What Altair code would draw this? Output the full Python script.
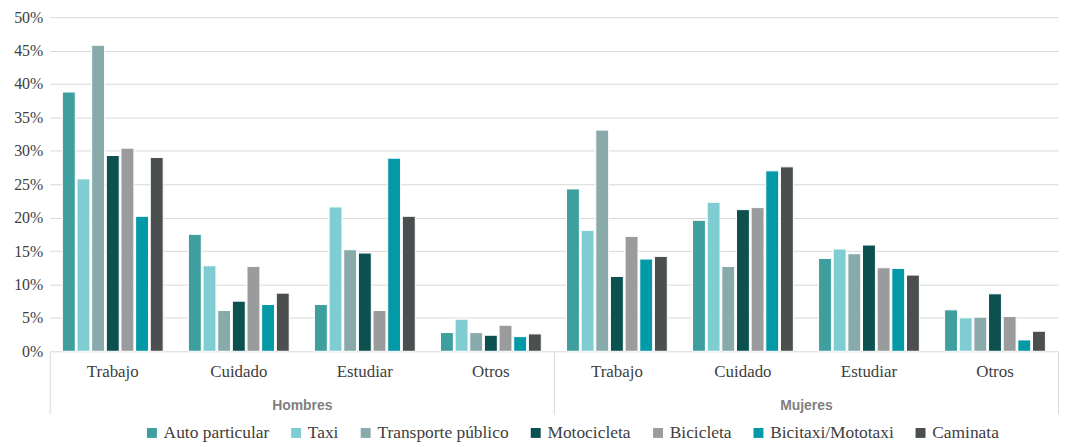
import altair as alt
import pandas as pd

modos = ["Auto particular", "Taxi", "Transporte público", "Motocicleta",
         "Bicicleta", "Bicitaxi/Mototaxi", "Caminata"]
colores = ["#3f9f9f", "#7fccd3", "#89aaab", "#0c5050", "#999b9c", "#0399a7", "#4b4f50"]
sexos = ["Hombres", "Mujeres"]
actividades = ["Trabajo", "Cuidado", "Estudiar", "Otros"]

# values (%) per activity, in the order of `modos`
hombres = {
    "Trabajo":  [38.8, 25.8, 45.8, 29.3, 30.4, 20.2, 29.0],
    "Cuidado":  [17.5, 12.8, 6.1, 7.5, 12.7, 7.0, 8.7],
    "Estudiar": [7.0, 21.6, 15.2, 14.7, 6.1, 28.9, 20.2],
    "Otros":    [2.8, 4.8, 2.8, 2.4, 3.9, 2.2, 2.6],
}
mujeres = {
    "Trabajo":  [24.3, 18.1, 33.1, 11.2, 17.2, 13.8, 14.2],
    "Cuidado":  [19.6, 22.3, 12.7, 21.2, 21.5, 27.0, 27.6],
    "Estudiar": [13.9, 15.3, 14.6, 15.9, 12.5, 12.4, 11.4],
    "Otros":    [6.2, 5.0, 5.1, 8.6, 5.2, 1.7, 3.0],
}

rows = []
keys = []
for sexo, datos in zip(sexos, [hombres, mujeres]):
    for act in actividades:
        key = f"{sexo}|{act}"
        keys.append(key)
        for modo, v in zip(modos, datos[act]):
            rows.append({"key": key, "sexo": sexo, "actividad": act,
                         "modo": modo, "valor": v / 100})
df = pd.DataFrame(rows)
grupos = pd.DataFrame({"sexo": sexos})

SERIF = "Liberation Serif"

bars = alt.Chart(df).mark_bar(stroke="white", strokeWidth=1).encode(
    x=alt.X("key:N", sort=keys,
            scale=alt.Scale(paddingInner=0.2, paddingOuter=0.1),
            axis=alt.Axis(title=None, labelExpr="split(datum.label, '|')[1]",
                          ticks=False, domain=False, labelAngle=0,
                          labelFont=SERIF, labelFontSize=17, labelColor="#404040",
                          labelPadding=12)),
    xOffset=alt.XOffset("modo:N", sort=modos, scale=alt.Scale(paddingInner=0.12)),
    y=alt.Y("valor:Q", scale=alt.Scale(domain=[0, 0.5]),
            axis=alt.Axis(title=None, format=".0%",
                          values=[i / 100 for i in range(0, 51, 5)],
                          ticks=False, domain=False, gridColor="#d9d9d9",
                          labelFont=SERIF, labelFontSize=16, labelColor="#404040",
                          labelPadding=7)),
    color=alt.Color("modo:N", sort=modos,
                    scale=alt.Scale(domain=modos, range=colores),
                    legend=alt.Legend(title=None, orient="none", direction="horizontal",
                                      legendX=94, legendY=409,
                                      symbolType="square", symbolSize=100,
                                      symbolStrokeWidth=0, labelFont=SERIF,
                                      labelFontSize=17.5, labelColor="#404040",
                                      columnPadding=18, labelOffset=3)),
)

outer = alt.Chart(grupos).mark_point(opacity=0).encode(
    x=alt.X("sexo:N", sort=sexos,
            scale=alt.Scale(paddingInner=0, paddingOuter=0),
            axis=alt.Axis(title=None, orient="bottom", tickBand="extent",
                          tickSize=63, tickColor="#d9d9d9", domain=False,
                          labelAngle=0, labelPadding=-15,
                          labelFont="Liberation Sans", labelFontWeight="bold",
                          labelFontSize=14, labelColor="#7f7f7f")),
)

chart = alt.layer(bars, outer).resolve_scale(x="independent").resolve_axis(
    x="independent"
).properties(
    width=1014, height=336,
    padding={"left": 5, "top": 0, "right": 0, "bottom": 0},
).configure_view(stroke=None).configure_legend(
    labelFont=SERIF
).configure_axis(labelFont=SERIF)

chart.save("out.html", embed_options={"renderer": "svg", "actions": False})
